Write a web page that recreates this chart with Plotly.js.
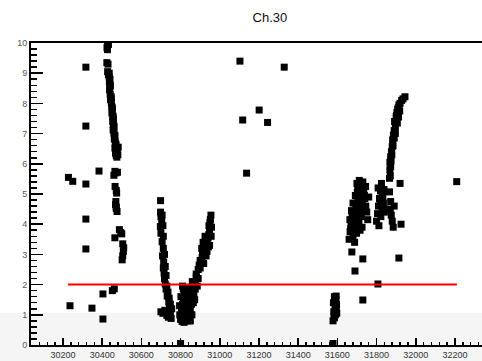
<!DOCTYPE html>
<html>
<head>
<meta charset="utf-8">
<script src="https://cdn.plot.ly/plotly-3.0.1.min.js"></script>
<style>html,body{margin:0;padding:0;background:#fff;}#chart{width:482px;height:361px;}</style>
</head>
<body>
<div id="chart"></div>
<script>
var leftX = [30228, 30250, 30236, 30317, 30317, 30317, 30317, 30317, 30384, 30348, 30404, 30404, 30452, 30462];
var leftY = [5.55, 5.42, 1.30, 9.20, 7.25, 5.33, 4.17, 3.18, 5.76, 1.22, 1.69, 0.86, 1.80, 1.86];

var spikeX = [30428, 30432, 30425, 30427, 30424, 30430, 30428, 30432, 30436, 30440, 30437, 30442, 30438, 30441, 30446, 30443, 30447, 30449, 30452, 30450, 30455, 30458, 30454, 30457, 30460, 30456, 30460, 30465, 30462, 30467, 30470, 30465, 30470, 30468, 30472, 30475, 30465, 30460, 30470, 30466, 30472, 30474, 30470, 30468, 30472, 30476, 30488, 30495, 30500, 30465, 30505, 30510, 30508, 30505, 30502,
              30440, 30446, 30452, 30455, 30460, 30464, 30470, 30476, 30480, 30478, 30472, 30436, 30482];
var spikeY = [10.0, 9.95, 9.85, 9.78, 9.35, 9.30, 9.05, 8.95, 8.88, 8.80, 8.70, 8.60, 8.45, 8.30, 8.22, 8.12, 8.02, 7.90, 7.78, 7.68, 7.58, 7.48, 7.40, 7.30, 7.22, 7.12, 7.02, 6.92, 6.82, 6.72, 6.62, 6.52, 6.42, 6.35, 6.28, 6.22, 5.75, 5.62, 5.70, 5.25, 5.12, 5.03, 4.75, 4.65, 4.57, 4.42, 3.82, 3.72, 3.68, 3.55, 3.35, 3.22, 3.10, 2.95, 2.82,
              8.55, 8.15, 7.85, 7.55, 7.25, 6.95, 6.65, 6.45, 6.30, 5.72, 4.52, 9.00, 6.55];

var vLeftX = [30698, 30698, 30700, 30704, 30697, 30700, 30706, 30712, 30708, 30714, 30712, 30716, 30718, 30722, 30726, 30732, 30740, 30744, 30700, 30710, 30730, 30738, 30748, 30752,
              30706, 30710, 30712, 30718, 30722, 30726, 30730, 30736, 30742, 30748, 30720, 30735, 30755, 30745];
var vLeftY = [4.78, 4.40, 4.25, 4.08, 3.92, 3.70, 3.42, 3.20, 2.95, 2.75, 2.55, 2.38, 2.20, 2.02, 1.85, 1.62, 1.42, 1.28, 1.10, 1.05, 0.98, 0.92, 1.05, 0.88,
              4.30, 3.95, 3.60, 3.00, 2.60, 2.30, 1.95, 1.75, 1.55, 1.35, 1.15, 1.10, 1.20, 0.95];

var vBottomX = [30800, 30805, 30810, 30815, 30808, 30820, 30825, 30830, 30822, 30835, 30840, 30845, 30850, 30812, 30828, 30842, 30855, 30860, 30865, 30870, 30850, 30838, 30818, 30806, 30860, 30875, 30880, 30885, 30848, 30832, 30868, 30800,
                30795, 30802, 30814, 30826, 30836, 30846, 30856, 30866, 30876, 30890, 30858, 30844, 30796, 30810, 30830, 30872];
var vBottomY = [0.85, 1.10, 1.35, 1.55, 0.78, 1.70, 1.20, 0.95, 1.45, 1.80, 1.30, 1.05, 0.80, 1.00, 1.60, 1.55, 1.90, 1.70, 1.40, 2.00, 1.20, 0.85, 0.75, 1.25, 2.10, 1.85, 2.25, 1.95, 1.75, 1.90, 1.60, 0.05,
                1.30, 1.60, 1.85, 1.50, 1.20, 1.65, 1.35, 1.80, 2.05, 2.20, 1.00, 0.80, 1.00, 1.95, 0.80, 1.50];

var vRightX = [30880, 30890, 30895, 30900, 30905, 30910, 30912, 30918, 30922, 30928, 30932, 30936, 30940, 30944, 30948, 30945, 30950, 30952, 30955, 30948,
               30900, 30908, 30915, 30925, 30935, 30942, 30958, 30956, 30930, 30918];
var vRightY = [2.35, 2.50, 2.65, 2.80, 2.75, 2.90, 3.05, 3.00, 3.15, 3.25, 3.35, 3.45, 3.55, 3.65, 3.80, 3.95, 4.05, 4.15, 4.30, 3.30,
               2.55, 3.20, 3.40, 3.60, 3.10, 3.25, 3.90, 3.60, 2.95, 2.70];

var midX = [31103, 31329, 31201, 31117, 31244, 31137];
var midY = [9.40, 9.20, 7.78, 7.45, 7.37, 5.69];

var lowX = [31578, 31585, 31590, 31582, 31595, 31588, 31580, 31592, 31585, 31597, 31583, 31590, 31578, 31596, 31594];
var lowY = [0.80, 0.90, 1.00, 1.10, 1.20, 1.30, 1.40, 1.50, 1.60, 1.05, 0.95, 1.45, 0.05, 1.35, 1.62];

var blobX = [31660, 31665, 31670, 31675, 31668, 31672, 31680, 31685, 31690, 31695, 31700, 31705, 31710, 31715, 31720, 31725, 31730, 31735, 31740, 31745, 31688, 31698, 31708, 31718, 31728, 31738, 31700, 31712, 31724, 31680, 31692, 31704, 31716, 31750, 31755, 31760, 31674, 31730, 31690, 31807, 31730, 31914,
             31678, 31686, 31696, 31706, 31714, 31722, 31734, 31744, 31702, 31726, 31664, 31676];
var blobY = [3.50, 3.75, 4.00, 4.25, 3.85, 4.45, 3.60, 3.90, 4.20, 4.50, 4.70, 4.40, 4.10, 4.80, 5.00, 5.20, 5.40, 5.10, 4.85, 4.60, 3.40, 3.70, 3.95, 4.30, 4.65, 4.95, 5.35, 5.45, 5.30, 4.70, 4.95, 5.15, 3.80, 4.40, 4.15, 4.90, 3.08, 2.85, 2.45, 2.02, 1.49, 2.88,
             4.05, 4.35, 4.60, 4.85, 4.55, 4.25, 4.50, 5.25, 5.05, 3.90, 4.15, 3.95];

var colCX = [31800, 31805, 31810, 31815, 31820, 31825, 31830, 31835, 31840, 31812, 31822, 31832, 31845, 31870, 31875, 31880, 31885, 31890, 31925, 31872, 31808, 31818, 31828, 31838];
var colCY = [4.10, 4.35, 4.60, 4.85, 5.10, 5.35, 5.00, 4.70, 4.40, 3.95, 4.25, 4.90, 4.50, 4.50, 4.30, 4.10, 3.90, 4.60, 4.00, 4.75, 5.20, 4.75, 4.45, 5.15];

var armX = [31866, 31866, 31868, 31872, 31868, 31872, 31876, 31880, 31882, 31886, 31890, 31896, 31892, 31900, 31904, 31910, 31914, 31902, 31908, 31920, 31928, 31935, 31945, 31920, 32209,
            31874, 31878, 31884, 31890, 31896, 31906, 31912, 31918, 31870];
var armY = [5.07, 5.52, 5.80, 5.90, 6.05, 6.23, 6.40, 6.57, 6.79, 6.95, 7.10, 7.23, 7.40, 7.56, 7.70, 7.85, 7.95, 7.60, 7.80, 8.00, 8.10, 8.15, 8.22, 5.35, 5.41,
            6.10, 6.30, 6.60, 6.85, 7.00, 7.35, 7.55, 7.75, 5.60];

var lineX = [30225, 32210];
var lineY = [2, 2];

var xTickVals = [30200, 30400, 30600, 30800, 31000, 31200, 31400, 31600, 31800, 32000, 32200];
var yTickVals = [0, 1, 2, 3, 4, 5, 6, 7, 8, 9, 10];

var allX = [].concat(leftX, spikeX, vLeftX, vBottomX, vRightX, midX, lowX, blobX, colCX, armX);
var allY = [].concat(leftY, spikeY, vLeftY, vBottomY, vRightY, midY, lowY, blobY, colCY, armY);

var font = 'Liberation Sans, Arial, Helvetica, sans-serif';

var traces = [
  {x: allX, y: allY, type: 'scatter', mode: 'markers',
   marker: {symbol: 'square', size: 7, color: '#000', line: {width: 0}},
   hoverinfo: 'none', cliponaxis: true},
  {x: lineX, y: lineY, type: 'scatter', mode: 'lines',
   line: {color: '#ff0000', width: 2}, hoverinfo: 'none'}
];

var layout = {
  width: 482, height: 361,
  margin: {l: 31, r: 0, t: 43, b: 16, pad: 0},
  paper_bgcolor: '#ffffff',
  plot_bgcolor: 'rgba(0,0,0,0)',
  showlegend: false,
  title: {text: 'Ch.30', font: {family: font, size: 13, color: '#111'},
          x: 0.56, xref: 'container', xanchor: 'center',
          y: 0.953, yref: 'container', yanchor: 'middle'},
  xaxis: {
    range: [30037, 32338], tickvals: xTickVals, ticktext: xTickVals.map(String),
    ticks: 'inside', ticklen: 7, tickwidth: 1.5, tickcolor: '#000',
    minor: {dtick: 40, tick0: 30000, ticks: 'inside', ticklen: 3.5, tickwidth: 1.5, tickcolor: '#000', showgrid: false},
    showline: true, linecolor: '#000', linewidth: 2, mirror: true,
    showgrid: false, zeroline: false,
    tickfont: {family: font, size: 9, color: '#333'}
  },
  yaxis: {
    range: [0, 10], tickvals: yTickVals, ticktext: yTickVals.map(String),
    ticks: 'inside', ticklen: 12, tickwidth: 1.5, tickcolor: '#000',
    minor: {dtick: 0.2, tick0: 0, ticks: 'inside', ticklen: 6, tickwidth: 1.5, tickcolor: '#000', showgrid: false},
    showline: true, linecolor: '#000', linewidth: 2, mirror: true,
    showgrid: false, zeroline: false,
    tickfont: {family: font, size: 9, color: '#555'}
  },
  shapes: [
    {type: 'rect', xref: 'paper', yref: 'paper', x0: -0.08, x1: 1.01, y0: -0.06, y1: 0.106,
     fillcolor: '#f5f5f5', line: {width: 0}, layer: 'below'}
  ]
};

Plotly.newPlot('chart', traces, layout, {staticPlot: true, displayModeBar: false});
</script>
</body>
</html>
